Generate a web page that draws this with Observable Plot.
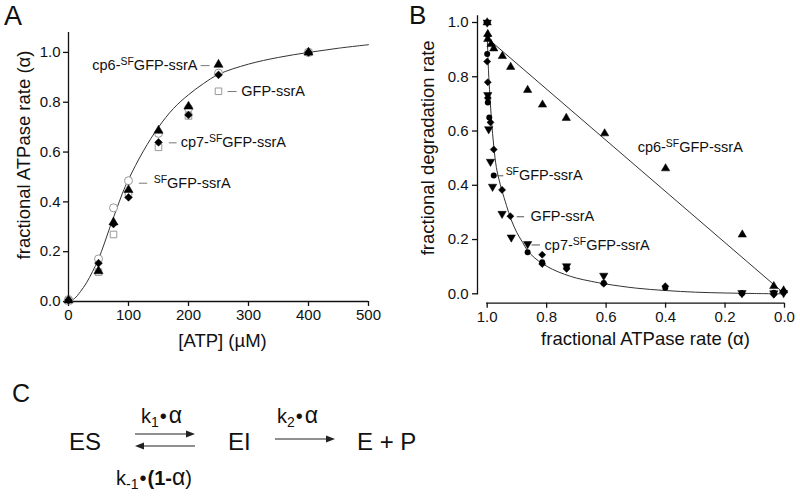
<!DOCTYPE html>
<html>
<head>
<meta charset="utf-8">
<script src="https://cdn.jsdelivr.net/npm/d3@7"></script>
<script src="https://cdn.jsdelivr.net/npm/@observablehq/plot@0.6"></script>
<style>
  html, body { margin: 0; padding: 0; background: #fff; }
  #fig { position: relative; width: 800px; height: 497px; background: #fff; overflow: hidden;
         font-family: "Liberation Sans", Arial, sans-serif; color: #111; }
  #A { position: absolute; left: 0; top: 0; }
  #B { position: absolute; left: 400px; top: 0; }
  #overlay { position: absolute; left: 0; top: 0; pointer-events: none; }
</style>
</head>
<body>
<div id="fig">
  <div id="A"></div>
  <div id="B"></div>
  <svg id="overlay" width="800" height="497" font-family="Liberation Sans, Arial, sans-serif" fill="#111">
    <text x="4" y="25" font-size="27">A</text>
    <text x="409" y="24" font-size="26">B</text>
    <text x="12" y="402" font-size="25">C</text>
    <text x="69" y="450" font-size="24">ES</text>
    <text x="141" y="423" font-size="20">k<tspan font-size="14" dy="4">1</tspan><tspan dy="-4" dx="1">•</tspan><tspan font-size="23" dx="2">α</tspan></text>
    <line x1="135" y1="434" x2="188" y2="434" stroke="#222" stroke-width="1.2"/>
    <path d="M195,434 L186,430.5 L186,437.5 Z" fill="#222"/>
    <line x1="142" y1="446" x2="195" y2="446" stroke="#222" stroke-width="1.2"/>
    <path d="M135,446 L144,442.5 L144,449.5 Z" fill="#222"/>
    <text x="116" y="485" font-size="20">k<tspan font-size="14" dy="4">-1</tspan><tspan dy="-4" dx="1">•</tspan><tspan font-weight="bold" dx="1">(1-</tspan><tspan font-size="23">α</tspan>)</text>
    <text x="228" y="450" font-size="24">EI</text>
    <text x="277" y="423" font-size="20">k<tspan font-size="14" dy="4">2</tspan><tspan dy="-4" dx="1">•</tspan><tspan font-size="23" dx="2">α</tspan></text>
    <line x1="275" y1="439" x2="328" y2="439" stroke="#222" stroke-width="1.2"/>
    <path d="M335,439 L326,435.5 L326,442.5 Z" fill="#222"/>
    <text x="357" y="450" font-size="24">E + P</text>
  </svg>
</div>
<script>
// ---------- Panel A data: fractional ATPase rate vs [ATP] ----------
const atpA = [0, 50, 75, 100, 150, 200, 250, 400];
const alphaCp6A = [0.005, 0.122, 0.318, 0.448, 0.686, 0.783, 0.951, 1.0];
const alphaCp7A = [0.005, 0.154, 0.311, 0.418, 0.639, 0.749, 0.910, 1.0];
const alphaGfpA = [0.003, 0.118, 0.269, 0.43, 0.619, 0.745, 0.844, 1.0];
const alphaSfA  = [0.008, 0.171, 0.376, 0.485, 0.675, 0.775, 0.917, 1.0];
const fitAtpA   = [0, 10, 20, 30, 40, 50, 60, 70, 80, 90, 100, 125, 150, 175, 200, 225, 250, 300, 350, 400, 450, 500];
const fitAlphaA = [0, 0.012, 0.04, 0.075, 0.12, 0.17, 0.235, 0.305, 0.37, 0.435, 0.49, 0.605, 0.70, 0.775, 0.83, 0.875, 0.912, 0.953, 0.98, 1.0, 1.017, 1.031];
const labelsA = [
  {label: "cp6-SFGFP-ssrA", x: 215, y: 0.947, x1: 221, x2: 236, anchor: "end"},
  {label: "GFP-ssrA", x: 288, y: 0.843, x1: 266, x2: 281, anchor: "start"},
  {label: "cp7-SFGFP-ssrA", x: 187, y: 0.637, x1: 168, x2: 181, anchor: "start"},
  {label: "SFGFP-ssrA", x: 142, y: 0.475, x1: 118, x2: 132, anchor: "start"}
];
const yTicks = [0, 0.2, 0.4, 0.6, 0.8, 1.0];
const xTicksA = [0, 100, 200, 300, 400, 500];

// ---------- Panel B data: fractional degradation rate vs alpha ----------
const bCp6 = [[1.0,1.0],[0.998,0.957],[0.998,0.939],[0.987,0.920],[0.978,0.904],[0.949,0.876],[0.921,0.836],[0.864,0.751],[0.814,0.697],[0.734,0.648],[0.605,0.591],[0.400,0.462],[0.142,0.218],[0.036,0.028],[0.003,0.012]];
const bSf  = [[1.0,1.0],[1.0,0.884],[0.998,0.705],[0.993,0.650],[0.978,0.436],[0.864,0.153],[0.815,0.116],[0.733,0.098],[0.608,0.040],[0.401,0.022],[0.143,0.002],[0.036,0.004],[0.003,0.006]];
const bGfp = [[1.0,1.0],[0.998,0.952],[1.0,0.856],[0.998,0.780],[0.998,0.722],[0.989,0.632],[0.978,0.532],[0.950,0.383],[0.922,0.286],[0.815,0.144],[0.815,0.110],[0.733,0.092],[0.608,0.037],[0.401,0.028],[0.143,0.0],[0.036,-0.003],[0.003,0.010]];
const bCp7 = [[1.0,1.0],[0.998,0.733],[0.995,0.607],[0.989,0.487],[0.982,0.395],[0.950,0.295],[0.919,0.208],[0.864,0.184],[0.733,0.102],[0.608,0.067],[0.143,0.003],[0.036,0.002],[0.003,0.003]];
const bFitCurve = [[1.0,0.95],[0.9956,0.822],[0.991,0.73],[0.9855,0.638],[0.978,0.545],[0.969,0.465],[0.96,0.42],[0.951,0.383],[0.935,0.325],[0.92,0.275],[0.9,0.225],[0.88,0.188],[0.865,0.16],[0.84,0.132],[0.815,0.112],[0.78,0.09],[0.74,0.072],[0.7,0.058],[0.65,0.046],[0.6,0.036],[0.5,0.021],[0.4,0.012],[0.3,0.006],[0.2,0.003],[0.1,0.001],[0.0,0.0]];
const bFitLine = [[0.992,0.935],[0.0,0.0]];
const labelsB = [
  {label: "SFGFP-ssrA", x: 0.938, y: 0.435, x1: 0.966, x2: 0.944},
  {label: "GFP-ssrA", x: 0.854, y: 0.284, x1: 0.899, x2: 0.874},
  {label: "cp7-SFGFP-ssrA", x: 0.807, y: 0.18, x1: 0.849, x2: 0.821}
];
const labelCp6B = [{label: "cp6-SFGFP-ssrA", x: 0.494, y: 0.54}];
const xTicksB = [1.0, 0.8, 0.6, 0.4, 0.2, 0.0];

const FONT = "'Liberation Sans', Arial, sans-serif";
const fmt = d3.format(".1f");
const ink = "#111";

function addSuperscripts(svg) {
  d3.select(svg).selectAll("text").each(function () {
    const t = this.textContent;
    const i = t.indexOf("SF");
    if (i < 0 || this.querySelector("tspan")) return;
    const pre = t.slice(0, i), post = t.slice(i + 2);
    const sel = d3.select(this).text(null);
    if (pre) sel.append("tspan").text(pre);
    sel.append("tspan").attr("font-size", "0.72em").attr("dy", -5).text("SF");
    sel.append("tspan").attr("dy", 5).text(post);
  });
}

const zipA = (ys) => atpA.map((x, i) => ({x, y: ys[i]}));

const plotA = Plot.plot({
  width: 400, height: 360,
  marginLeft: 68, marginRight: 32, marginTop: 32, marginBottom: 59,
  x: {domain: [0, 500]},
  y: {domain: [0, 1.08]},
  style: {fontFamily: FONT, fontSize: "15px", color: ink, background: "transparent", overflow: "visible"},
  marks: [
    Plot.ruleX([0], {y1: 0, y2: 1.08, stroke: ink, strokeWidth: 1.3}),
    Plot.ruleY([0], {x1: 0, x2: 500, stroke: ink, strokeWidth: 1.3}),
    Plot.axisY({ticks: yTicks, tickSize: 5, tickPadding: 3, tickFormat: fmt, label: null, strokeWidth: 1.3}),
    Plot.axisX({ticks: xTicksA, tickSize: 5, tickPadding: 3, label: null, strokeWidth: 1.3}),
    Plot.line(fitAtpA.map((x, i) => ({x, y: fitAlphaA[i]})), {x: "x", y: "y", curve: "catmull-rom", stroke: "#333", strokeWidth: 1}),
    Plot.dot(zipA(alphaSfA), {x: "x", y: "y", symbol: "circle", r: 4, stroke: "#999", fill: "white", strokeWidth: 1}),
    Plot.dot(zipA(alphaGfpA), {x: "x", y: "y", symbol: "square", r: 3.7, stroke: "#999", fill: "white", strokeWidth: 1}),
    Plot.dot(zipA(alphaCp6A), {x: "x", y: "y", symbol: "triangle", r: 3.4, fill: "black", stroke: "black", strokeWidth: 0.5}),
    Plot.dot(zipA(alphaCp7A), {x: "x", y: "y", symbol: "diamond2", r: 3.5, fill: "black", stroke: "black", strokeWidth: 0.5}),
    Plot.ruleY(labelsA, {y: "y", x1: "x1", x2: "x2", stroke: "#777", strokeWidth: 1}),
    Plot.text(labelsA.filter(d => d.anchor === "end"), {x: "x", y: "y", text: "label", textAnchor: "end", fontSize: 14.5}),
    Plot.text(labelsA.filter(d => d.anchor === "start"), {x: "x", y: "y", text: "label", textAnchor: "start", fontSize: 14.5}),
    Plot.text(["fractional ATPase rate (α)"], {text: d => d, frameAnchor: "left", textAnchor: "middle", lineAnchor: "middle", rotate: -90, dx: -44, dy: -12, fontSize: 18.5}),
    Plot.text(["[ATP] (µM)"], {text: d => d, frameAnchor: "bottom", textAnchor: "middle", lineAnchor: "middle", dx: 4, dy: 40, fontSize: 18.5})
  ]
});
addSuperscripts(plotA);
document.getElementById("A").append(plotA);

const pt = (d) => ({x: d[0], y: d[1]});
const plotB = Plot.plot({
  width: 400, height: 360,
  marginLeft: 77, marginRight: 16, marginTop: 22, marginBottom: 57.3,
  x: {domain: [1, 0], insetLeft: 9.7},
  y: {domain: [0, 1], insetBottom: 9.4},
  style: {fontFamily: FONT, fontSize: "15px", color: ink, background: "transparent", overflow: "visible"},
  marks: [
    Plot.ruleX([1], {y1: -0.004, y2: 1.025, dx: -9.7, stroke: ink, strokeWidth: 1.3}),
    Plot.ruleY([0], {x1: 1.002, x2: 0, dy: 9.4, stroke: ink, strokeWidth: 1.3}),
    Plot.axisY({ticks: yTicks, tickSize: 5, tickPadding: 4, tickFormat: fmt, label: null, strokeWidth: 1.3}),
    Plot.axisX({ticks: xTicksB, tickSize: 5, tickPadding: 3, tickFormat: fmt, label: null, strokeWidth: 1.3}),
    Plot.line(bFitLine.map(pt), {x: "x", y: "y", stroke: "#333", strokeWidth: 1}),
    Plot.line(bFitCurve.map(pt), {x: "x", y: "y", curve: "catmull-rom", stroke: "#333", strokeWidth: 1}),
    Plot.dot(bSf.map(pt), {x: "x", y: "y", symbol: "circle", r: 3, fill: "black"}),
    Plot.dot(bGfp.map(pt), {x: "x", y: "y", symbol: "diamond2", r: 3.2, fill: "black", stroke: "black", strokeWidth: 0.5}),
    Plot.dot(bCp7.map(pt), {x: "x", y: "y", symbol: "triangle", rotate: 180, r: 3.1, fill: "black", stroke: "black", strokeWidth: 0.5}),
    Plot.dot(bCp6.map(pt), {x: "x", y: "y", symbol: "triangle", r: 3.1, fill: "black", stroke: "black", strokeWidth: 0.5}),
    Plot.ruleY(labelsB, {y: "y", x1: "x1", x2: "x2", stroke: "#555", strokeWidth: 1}),
    Plot.text(labelsB, {x: "x", y: "y", text: "label", textAnchor: "start", fontSize: 14.5}),
    Plot.text(labelCp6B, {x: "x", y: "y", text: "label", textAnchor: "start", fontSize: 14.5}),
    Plot.text(["fractional degradation rate"], {text: d => d, frameAnchor: "left", textAnchor: "middle", lineAnchor: "middle", rotate: -90, dx: -49, dy: -15, fontSize: 18.5}),
    Plot.text(["fractional ATPase rate (α)"], {text: d => d, frameAnchor: "bottom", textAnchor: "middle", lineAnchor: "middle", dx: 14.5, dy: 35.5, fontSize: 18.5})
  ]
});
addSuperscripts(plotB);
document.getElementById("B").append(plotB);
</script>
</body>
</html>
